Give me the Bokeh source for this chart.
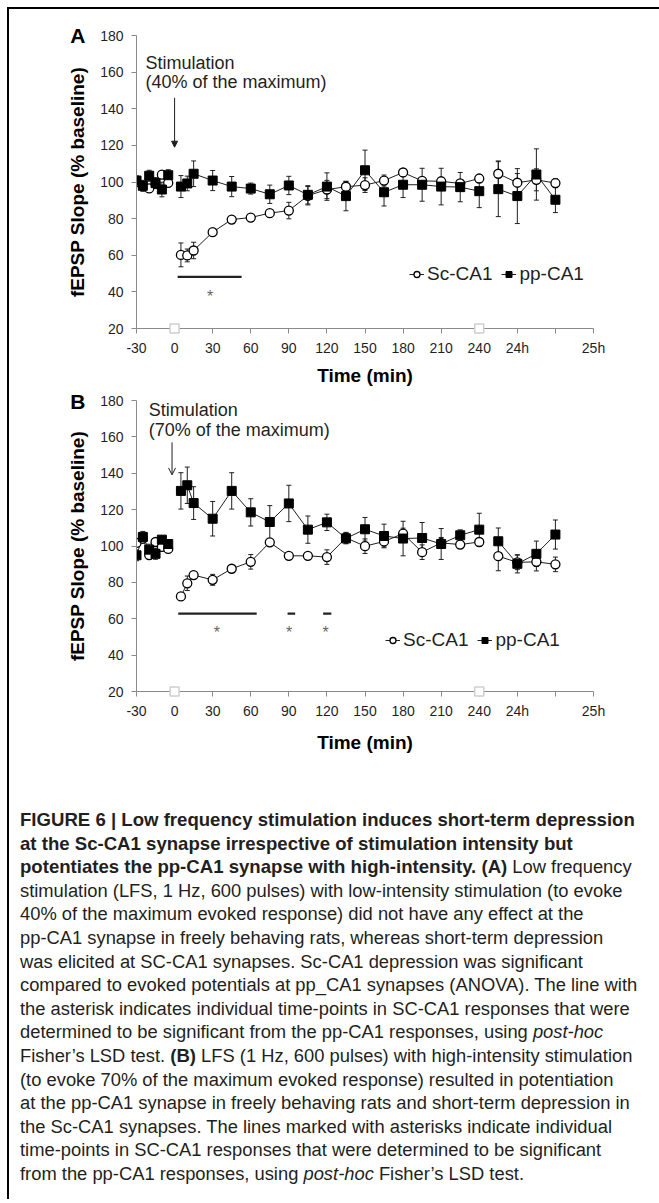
from bokeh.plotting import figure
from bokeh.models import (ColumnDataSource, Range1d, FixedTicker, Whisker, TeeHead, LinearAxis,
                          Label, Arrow, NormalHead, OpenHead, Legend, LegendItem, Div, Spacer)
from bokeh.layouts import row, column
from bokeh.core.properties import value
from bokeh.embed import file_html
from bokeh.resources import INLINE

# ---------------- data ----------------
x_ticks = [-30, 0, 30, 60, 90, 120, 150, 180, 210, 240, 270, 300, 330]
x_tick_labels = {-30: "-30", 270: "24h", 300: "", 330: "25h"}
y_ticks = [20, 40, 60, 80, 100, 120, 140, 160, 180]

t_base = [-30, -25, -20, -15, -10, -5]
t_post = [5, 10, 15, 30, 45, 60, 75, 90, 105, 120, 135, 150, 165, 180, 195, 210, 225, 240]
t_24h = [255, 270, 285, 300]
stim_marker_t = [0, 240]
stim_marker_y = [20, 20]

# Panel A (40% of maximum)
A_sc_base = [100.0, 98.0, 96.5, 99.0, 104.0, 99.5]
A_sc_base_err = [2, 2, 2, 2, 2, 2]
A_pp_base = [100.8, 97.9, 103.4, 99.4, 95.9, 103.7]
A_pp_base_err = [2.5, 3, 3, 3, 4, 3]
A_sc_post = [60.2, 59.9, 62.6, 72.6, 79.5, 80.6, 83.0, 84.4, 92.5, 95.9, 97.4, 98.3,
             100.8, 105.2, 100.6, 100.4, 99.2, 101.9]
A_sc_post_err = [6.5, 3.5, 4.5, 1.5, 1, 1.5, 2, 4.5, 5, 5, 3, 4, 3, 2, 2, 2, 2, 2]
A_pp_post = [97.5, 99.2, 104.5, 100.8, 97.5, 96.4, 93.3, 98.1, 93.0, 97.5, 92.3, 106.4,
             94.4, 98.5, 98.5, 97.5, 97.2, 95.0]
A_pp_post_err = [6, 4, 7, 5.5, 5.5, 3, 5, 5, 5, 7.5, 8, 11, 7.5, 7, 9, 10, 8, 9]
A_sc_24h = [104.5, 99.6, 101.2, 99.4]
A_sc_24h_err = [7, 5, 6, 2.5]
A_pp_24h = [96.1, 92.3, 104.1, 90.3]
A_pp_24h_err = [15, 15, 14, 7]
A_sig_start = [2.4]
A_sig_end = [52.8]
A_sig_y = [48.2]
A_star_x = [28]
A_star_y = [37.6]

# Panel B (70% of maximum)
B_sc_base = [101.7, 104.0, 95.0, 102.2, 99.5, 98.4]
B_sc_base_err = [2, 2, 2, 2, 2, 2]
B_pp_base = [94.9, 105.0, 98.0, 95.7, 103.5, 101.1]
B_pp_base_err = [3, 3, 3, 3, 2, 2]
B_sc_post = [72.3, 79.5, 84.0, 81.4, 87.5, 91.3, 102.0, 94.6, 94.6, 93.9, 104.5, 99.9,
             102.5, 106.8, 96.6, 101.7, 100.8, 102.2]
B_sc_post_err = [1.5, 4, 2, 3, 2, 4, 1.5, 1.5, 1.5, 4, 3, 4, 3, 3, 4, 3, 2, 2]
B_pp_post = [130.3, 133.4, 123.6, 115.0, 130.3, 118.5, 113.2, 123.4, 109.0, 113.0, 104.2,
             109.2, 105.5, 104.1, 104.4, 101.1, 105.9, 109.0]
B_pp_post_err = [10, 10, 9, 9.5, 10, 7.5, 9, 10, 7.5, 4.5, 3, 6.5, 6.5, 9.5, 8.5, 8.5, 3, 9]
B_sc_24h = [94.4, 91.0, 91.3, 89.9]
B_sc_24h_err = [8, 4, 5, 4]
B_pp_24h = [102.6, 90.2, 95.7, 106.3]
B_pp_24h_err = [7.3, 5, 7, 8]
B_sig_start = [2.9, 89, 117]
B_sig_end = [64.7, 95, 123.5]
B_sig_y = [62.8, 62.8, 62.8]
B_star_x = [33.3, 90.2, 119]
B_star_y = [52.4, 52.4, 52.4]

FONT = "Liberation Sans"
INK = "#1f1f1f"
AXIS_GREY = "#8a8a8a"
FIG_W = 650


def make_source(t, y, err):
    return ColumnDataSource(dict(t=t, y=y,
                                 lo=[a - b for a, b in zip(y, err)],
                                 hi=[a + b for a, b in zip(y, err)]))


def make_panel(letter, stim_text, sc, pp, sig, stars, geom, arrow, legend_loc, head):
    (ml, mr, mt, mb, label_standoff) = geom
    p = figure(width=FIG_W, height=380, x_range=Range1d(-30, 330), y_range=Range1d(20, 180),
               output_backend="svg", toolbar_location=None,
               min_border_left=ml, min_border_right=mr, min_border_top=mt, min_border_bottom=mb,
               outline_line_color=None, background_fill_color="white", border_fill_color=None)
    p.grid.visible = False

    for ax in (p.xaxis[0], p.yaxis[0]):
        ax.axis_line_color = AXIS_GREY
        ax.major_tick_line_color = AXIS_GREY
        ax.minor_tick_line_color = None
        ax.major_tick_out = 5
        ax.major_tick_in = 0
        ax.major_label_text_font = FONT
        ax.major_label_text_font_size = "14px"
        ax.major_label_text_color = INK
        ax.axis_label_text_font = FONT
        ax.axis_label_text_font_size = "19px"
        ax.axis_label_text_font_style = "bold"
        ax.axis_label_text_color = "#000000"
    p.xaxis[0].ticker = FixedTicker(ticks=x_ticks)
    p.xaxis[0].major_label_overrides = x_tick_labels
    p.xaxis[0].major_label_standoff = 6
    p.xaxis[0].axis_label = "Time (min)"
    p.xaxis[0].axis_label_standoff = label_standoff
    p.yaxis[0].ticker = FixedTicker(ticks=y_ticks)
    p.yaxis[0].major_label_standoff = 8
    p.yaxis[0].axis_label = "fEPSP Slope (% baseline)"
    p.yaxis[0].axis_label_standoff = 9

    # panel letter, drawn as the single label of an extra (invisible) left axis
    letter_axis = LinearAxis(ticker=FixedTicker(ticks=[180]),
                             major_label_overrides={180: letter},
                             axis_line_color=None, major_tick_line_color=None,
                             minor_tick_line_color=None, major_tick_out=0, major_tick_in=0,
                             major_label_standoff=-21, major_label_text_font=FONT,
                             major_label_text_font_size="21px",
                             major_label_text_font_style="bold",
                             major_label_text_color="black")
    p.add_layout(letter_axis, "left")

    sc_srcs = [make_source(*s) for s in sc]
    pp_srcs = [make_source(*s) for s in pp]
    for src in sc_srcs + pp_srcs:
        p.add_layout(Whisker(source=src, base="t", upper="hi", lower="lo",
                             line_color=INK, line_width=1,
                             upper_head=TeeHead(size=5, line_color=INK, line_width=1),
                             lower_head=TeeHead(size=5, line_color=INK, line_width=1)))
    sc_lines = [p.line("t", "y", source=s, line_color=INK, line_width=1) for s in sc_srcs]
    pp_lines = [p.line("t", "y", source=s, line_color=INK, line_width=1) for s in pp_srcs]
    sc_marks = [p.scatter("t", "y", source=s, marker="circle", size=9, fill_color="white",
                          line_color="black", line_width=1.3) for s in sc_srcs]
    pp_marks = [p.scatter("t", "y", source=s, marker="square", size=9, fill_color="black",
                          line_color="black", line_width=1) for s in pp_srcs]

    p.scatter(stim_marker_t, stim_marker_y, marker="square", size=9, fill_color="white",
              line_color="#cfcfcf", line_width=1.5, level="overlay")

    s0, s1, sy = sig
    p.segment(x0=s0, y0=sy, x1=s1, y1=sy, line_color="#222222", line_width=2.2)
    sx, sty = stars
    p.text(x=sx, y=sty, text=["*"] * len(sx), text_font=value(FONT), text_font_size="16px",
           text_color="#666666", text_align="center", text_baseline="alphabetic")

    tx, ty1, ty2 = stim_text[1], stim_text[2], stim_text[3]
    p.add_layout(Label(x=tx, y=ty1, text="Stimulation", text_font=FONT, text_font_size="18px",
                       text_color=INK, text_baseline="alphabetic"))
    p.add_layout(Label(x=tx, y=ty2, text=stim_text[0], text_font=FONT, text_font_size="18px",
                       text_color=INK, text_baseline="alphabetic"))
    ax_, ay0, ay1 = arrow
    p.add_layout(Arrow(end=head, x_start=ax_, y_start=ay0, x_end=ax_, y_end=ay1,
                       line_color=INK, line_width=1))

    legend = Legend(items=[LegendItem(label="Sc-CA1", renderers=[sc_lines[1], sc_marks[1]]),
                           LegendItem(label="pp-CA1", renderers=[pp_lines[1], pp_marks[1]])],
                    orientation="horizontal", location=legend_loc,
                    glyph_width=15, glyph_height=20, label_standoff=3, spacing=9,
                    padding=0, margin=0, border_line_color=None, background_fill_alpha=0,
                    label_text_font=FONT, label_text_font_size="19px", label_text_color=INK)
    p.add_layout(legend)
    return p


pA = make_panel("A",
                ("(40% of the maximum)", -22.9, 165.2, 154.7),
                [(t_base, A_sc_base, A_sc_base_err), (t_post, A_sc_post, A_sc_post_err),
                 (t_24h, A_sc_24h, A_sc_24h_err)],
                [(t_base, A_pp_base, A_pp_base_err), (t_post, A_pp_post, A_pp_post_err),
                 (t_24h, A_pp_24h, A_pp_24h_err)],
                (A_sig_start, A_sig_end, A_sig_y), (A_star_x, A_star_y),
                (125, 66, 26, 61, 6), (0, 146, 119), (273, 43),
                NormalHead(size=6, fill_color=INK, line_color=INK))

pB = make_panel("B",
                ("(70% of the maximum)", -20.4, 175.0, 163.9),
                [(t_base, B_sc_base, B_sc_base_err), (t_post, B_sc_post, B_sc_post_err),
                 (t_24h, B_sc_24h, B_sc_24h_err)],
                [(t_base, B_pp_base, B_pp_base_err), (t_post, B_pp_post, B_pp_post_err),
                 (t_24h, B_pp_24h, B_pp_24h_err)],
                (B_sig_start, B_sig_end, B_sig_y), (B_star_x, B_star_y),
                (127, 64, 11, 78, 10), (-2, 157, 139.1), (249, 40),
                OpenHead(size=7, line_color=INK, line_width=1))

caption_lines = [
    "<b>FIGURE 6 | Low frequency stimulation induces short-term depression</b>",
    "<b>at the Sc-CA1 synapse irrespective of stimulation intensity but</b>",
    "<b>potentiates the pp-CA1 synapse with high-intensity. (A)</b> Low frequency",
    "stimulation (LFS, 1 Hz, 600 pulses) with low-intensity stimulation (to evoke",
    "40% of the maximum evoked response) did not have any effect at the",
    "pp-CA1 synapse in freely behaving rats, whereas short-term depression",
    "was elicited at SC-CA1 synapses. Sc-CA1 depression was significant",
    "compared to evoked potentials at pp_CA1 synapses (ANOVA). The line with",
    "the asterisk indicates individual time-points in SC-CA1 responses that were",
    "determined to be significant from the pp-CA1 responses, using <i>post-hoc</i>",
    "Fisher\u2019s LSD test. <b>(B)</b> LFS (1 Hz, 600 pulses) with high-intensity stimulation",
    "(to evoke 70% of the maximum evoked response) resulted in potentiation",
    "at the pp-CA1 synapse in freely behaving rats and short-term depression in",
    "the Sc-CA1 synapses. The lines marked with asterisks indicate individual",
    "time-points in SC-CA1 responses that were determined to be significant",
    "from the pp-CA1 responses, using <i>post-hoc</i> Fisher\u2019s LSD test.",
]
caption_html = ("<div style=\"font-family:'Liberation Sans',Arial,sans-serif;font-size:18.35px;"
                "line-height:23.6px;color:#231f20;padding-top:39px;padding-left:11px;"
                "white-space:nowrap;margin:0\">"
                + "".join("<div style='height:23.6px'>%s</div>"
                          % ln.replace("<b>", "<b style='font-size:18.6px'>")
                          for ln in caption_lines)
                + "</div>")
caption = Div(text=caption_html, width=FIG_W, height=430, margin=0)

top_bar = Div(text="", width=FIG_W, height=2, margin=0, styles={"background-color": "#000000"})
left_bar = Div(text="", width=2, height=1192, margin=0, styles={"background-color": "#000000"})

layout = column(Spacer(width=10, height=7),
                row(Spacer(width=7, height=10), left_bar,
                    column(top_bar, pA, pB, caption, spacing=0), spacing=0),
                spacing=0)

open("out.html", "w").write(file_html(layout, INLINE, title="Figure 6"))
